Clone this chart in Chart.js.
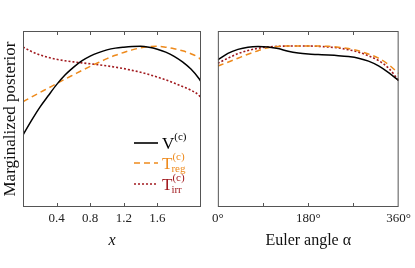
<!DOCTYPE html>
<html>
<head>
<meta charset="utf-8">
<script src="https://cdn.jsdelivr.net/npm/chart.js@4"></script>
<style>
  body { margin: 0; background: #fff; overflow: hidden; }
  #wrap { position: relative; width: 415px; height: 268px; overflow: hidden; }
  canvas { position: absolute; top: 0; }
</style>
</head>
<body>
<div id="wrap">
  <canvas id="chart_x" width="208" height="268" style="left:0px"></canvas>
  <canvas id="chart_alpha" width="207" height="268" style="left:208px"></canvas>
</div>
<script>
// left panel: posterior vs x
var x_vals = [0, 0.1, 0.2, 0.3, 0.4, 0.5, 0.6, 0.7, 0.8, 0.9, 1.0, 1.1, 1.2, 1.3, 1.4, 1.5, 1.6, 1.7, 1.8, 1.9, 2.0, 2.1, 2.12];
var x_V    = [0.45, 0.54, 0.623, 0.695, 0.765, 0.825, 0.873, 0.913, 0.943, 0.965, 0.982, 0.993, 0.999, 1.003, 1.004, 0.998, 0.986, 0.968, 0.942, 0.907, 0.862, 0.80, 0.783];
var x_Treg = [0.658, 0.687, 0.715, 0.743, 0.771, 0.799, 0.826, 0.853, 0.879, 0.903, 0.927, 0.948, 0.966, 0.982, 0.995, 1.003, 1.005, 0.999, 0.989, 0.976, 0.958, 0.93, 0.919];
var x_Tirr = [1.0, 0.972, 0.951, 0.935, 0.923, 0.914, 0.907, 0.901, 0.895, 0.889, 0.882, 0.874, 0.865, 0.854, 0.842, 0.828, 0.812, 0.795, 0.775, 0.753, 0.73, 0.695, 0.679];
var x_ticks = [0.4, 0.8, 1.2, 1.6];

// right panel: posterior vs Euler angle alpha
var a_vals = [0, 20, 40, 60, 80, 100, 120, 140, 160, 180, 200, 220, 240, 260, 280, 300, 320, 340, 360];
var a_V    = [0.919, 0.96, 0.985, 0.999, 1.003, 1.0, 0.99, 0.973, 0.962, 0.956, 0.953, 0.95, 0.946, 0.94, 0.93, 0.912, 0.882, 0.84, 0.79];
var a_Treg = [0.881, 0.905, 0.93, 0.955, 0.977, 0.995, 1.003, 1.006, 1.006, 1.006, 1.006, 1.004, 0.999, 0.99, 0.976, 0.956, 0.93, 0.89, 0.835];
var a_Tirr = [0.898, 0.93, 0.958, 0.978, 0.992, 1.0, 1.004, 1.006, 1.006, 1.006, 1.004, 1.0, 0.994, 0.983, 0.968, 0.945, 0.915, 0.868, 0.79];
var a_labels = [0, 180, 360];
var a_marks = [90, 180, 270];

var col_V = '#000000';
var col_reg = '#ee8a1c';
var col_irr = '#a11a1f';
var serif = '"Liberation Serif", "DejaVu Serif", serif';

function pts(xs, ys) {
  return xs.map(function(x, i) { return {x: x, y: ys[i]}; });
}

function sets(xs, v, reg, irr) {
  return [
    {data: pts(xs, v), borderColor: col_V, borderWidth: 1.5},
    {data: pts(xs, reg), borderColor: col_reg, borderWidth: 1.5, borderDash: [6, 4]},
    {data: pts(xs, irr), borderColor: col_irr, borderWidth: 1.6, borderDash: [2, 2]}
  ];
}

// frame round the plot area plus short inward tick marks
function framePlugin(marks) {
  return {
    id: 'frame',
    afterDatasetsDraw: function(chart) {
      var ctx = chart.ctx, a = chart.chartArea, sx = chart.scales.x;
      ctx.save();
      ctx.strokeStyle = '#555';
      ctx.lineWidth = 1;
      ctx.strokeRect(a.left + 0.5, a.top + 0.5, a.right - a.left - 1, a.bottom - a.top - 1);
      marks.forEach(function(m) {
        var px = Math.round(sx.getPixelForValue(m)) + 0.5;
        ctx.beginPath();
        ctx.moveTo(px, a.top); ctx.lineTo(px, a.top + 4);
        ctx.moveTo(px, a.bottom); ctx.lineTo(px, a.bottom - 4);
        ctx.stroke();
      });
      ctx.restore();
    }
  };
}

var legendPlugin = {
  id: 'texlegend',
  afterDatasetsDraw: function(chart) {
    var ctx = chart.ctx;
    var rows = [
      {y: 143, c: col_V, dash: [], main: 'V', sup: '(c)', sub: ''},
      {y: 163, c: col_reg, dash: [6, 4], main: 'T', sup: '(c)', sub: 'reg'},
      {y: 184, c: col_irr, dash: [2, 2], main: 'T', sup: '(c)', sub: 'irr'}
    ];
    ctx.save();
    rows.forEach(function(r) {
      ctx.strokeStyle = r.c;
      ctx.lineWidth = 1.6;
      ctx.setLineDash(r.dash);
      ctx.beginPath();
      ctx.moveTo(134, r.y); ctx.lineTo(158, r.y);
      ctx.stroke();
      ctx.setLineDash([]);
      ctx.fillStyle = r.c;
      ctx.textBaseline = 'alphabetic';
      ctx.font = '17px ' + serif;
      ctx.fillText(r.main, 162, r.y + 6);
      var w = ctx.measureText(r.main).width;
      ctx.font = '11px ' + serif;
      ctx.fillText(r.sup, 162 + w, r.y - 3);
      if (r.sub) ctx.fillText(r.sub, 162 + w - 1, r.y + 9);
    });
    ctx.restore();
  }
};

var config_x = {
  type: 'line',
  data: { datasets: sets(x_vals, x_V, x_Treg, x_Tirr) },
  options: {
    responsive: false,
    animation: false,
    layout: { padding: { top: 31, right: 7, left: 0, bottom: 14 } },
    elements: { point: { radius: 0 }, line: { tension: 0.4, cubicInterpolationMode: 'monotone' } },
    scales: {
      x: {
        type: 'linear', min: 0, max: 2.12,
        afterBuildTicks: function(s) { s.ticks = x_ticks.map(function(v) { return {value: v}; }); },
        afterFit: function(s) { s.height = 47; },
        grid: { display: false, drawTicks: false },
        border: { display: false },
        ticks: { color: '#222', font: { family: serif, size: 13 }, padding: 4, maxRotation: 0,
          callback: function(v) { return v.toFixed(1); } },
        title: { display: true, text: 'x', color: '#111', font: { family: serif, size: 16, style: 'italic' }, padding: { top: 6 } }
      },
      y: {
        min: 0, max: 1.1,
        afterFit: function(s) { s.width = 23; },
        grid: { display: false, drawTicks: false },
        border: { display: false },
        ticks: { display: false },
        title: { display: true, text: 'Marginalized posterior', color: '#111', font: { family: serif, size: 17 }, padding: { top: 0, bottom: 0 } }
      }
    },
    plugins: { legend: { display: false }, tooltip: { enabled: false } }
  },
  plugins: [framePlugin(x_ticks), legendPlugin]
};

var config_alpha = {
  type: 'line',
  data: { datasets: sets(a_vals, a_V, a_Treg, a_Tirr) },
  options: {
    responsive: false,
    animation: false,
    layout: { padding: { top: 31, right: 13, left: 8, bottom: 14 } },
    elements: { point: { radius: 0 }, line: { tension: 0.4, cubicInterpolationMode: 'monotone' } },
    scales: {
      x: {
        type: 'linear', min: 0, max: 360,
        afterBuildTicks: function(s) { s.ticks = a_labels.map(function(v) { return {value: v}; }); },
        afterFit: function(s) { s.height = 47; },
        grid: { display: false, drawTicks: false },
        border: { display: false },
        ticks: { color: '#222', font: { family: serif, size: 13 }, padding: 4, maxRotation: 0,
          callback: function(v) { return v + '°'; } },
        title: { display: true, text: 'Euler angle α', color: '#111', font: { family: serif, size: 16 }, padding: { top: 6 } }
      },
      y: { display: false, min: 0, max: 1.1 }
    },
    plugins: { legend: { display: false }, tooltip: { enabled: false } }
  },
  plugins: [framePlugin(a_marks)]
};

var chart_x = new Chart(document.getElementById('chart_x'), config_x);
var chart_alpha = new Chart(document.getElementById('chart_alpha'), config_alpha);
</script>
</body>
</html>
